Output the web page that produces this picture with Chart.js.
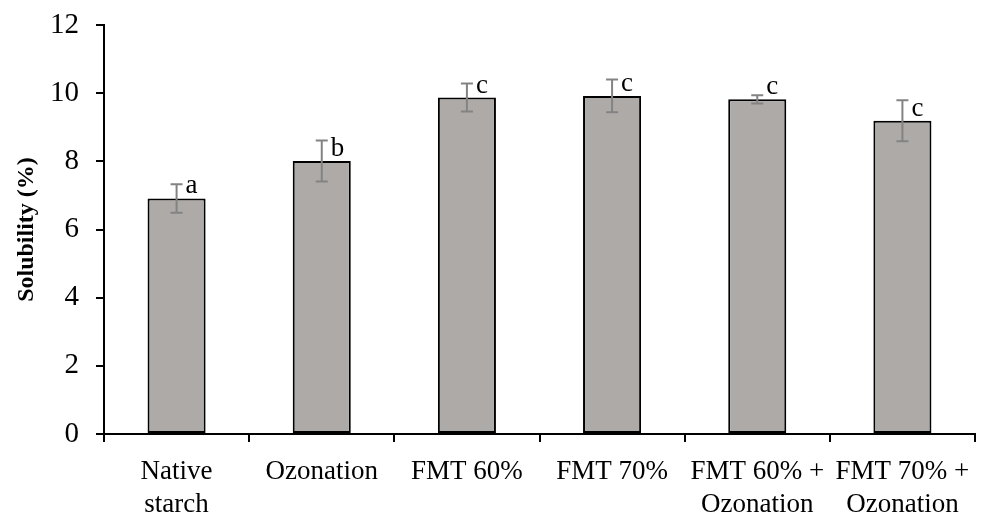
<!DOCTYPE html>
<html>
<head>
<meta charset="utf-8">
<script src="https://cdn.jsdelivr.net/npm/chart.js@4"></script>
<style>
html,body{margin:0;padding:0;background:#fff;}
#wrap{width:982px;height:515px;}
</style>
</head>
<body>
<div id="wrap"><canvas id="c" width="982" height="515"></canvas></div>
<script>
const categories = [["Native","starch"],"Ozonation","FMT 60%","FMT 70%",["FMT 60% +","Ozonation"],["FMT 70% +","Ozonation"]];
const solubility = [6.91, 8.01, 9.87, 9.92, 9.82, 9.19];
const errors = [0.42, 0.60, 0.41, 0.48, 0.12, 0.60];
const letters = ["a","b","c","c","c","c"];
const yTicks = [0,2,4,6,8,10,12];

const FONT = "'Liberation Serif', 'DejaVu Serif', serif";

const errorPlugin = {
  id: 'errbars',
  afterDatasetsDraw(chart) {
    const ctx = chart.ctx;
    const meta = chart.getDatasetMeta(0);
    const ys = chart.scales.y;
    ctx.save();
    meta.data.forEach((bar, i) => {
      const x = bar.x;
      const top = ys.getPixelForValue(solubility[i] + errors[i]);
      const bot = ys.getPixelForValue(solubility[i] - errors[i]);
      ctx.strokeStyle = '#838383';
      ctx.lineWidth = 2;
      ctx.beginPath();
      ctx.moveTo(x, top); ctx.lineTo(x, bot);
      ctx.moveTo(x - 6, top); ctx.lineTo(x + 6, top);
      ctx.moveTo(x - 6, bot); ctx.lineTo(x + 6, bot);
      ctx.stroke();
      ctx.fillStyle = '#000';
      ctx.font = '27px ' + FONT;
      ctx.textAlign = 'left';
      ctx.textBaseline = 'alphabetic';
      ctx.fillText(letters[i], x + 9, bar.y - 5);
    });
    ctx.restore();
  }
};

new Chart(document.getElementById('c'), {
  type: 'bar',
  data: {
    labels: categories,
    datasets: [{
      data: solubility,
      backgroundColor: '#AEAAA8',
      borderColor: '#000',
      borderWidth: 2,
      borderSkipped: false,
      barPercentage: 0.4,
      categoryPercentage: 1.0
    }]
  },
  options: {
    responsive: false,
    animation: false,
    devicePixelRatio: 1,
    layout: { padding: { top: 25, right: 7, bottom: 0, left: 0 } },
    plugins: { legend: { display: false }, tooltip: { enabled: false } },
    scales: {
      x: {
        offset: true,
        grid: { offset: true, drawOnChartArea: false, drawTicks: true, tickLength: 8, color: '#000', lineWidth: 2 },
        border: { display: true, color: '#000', width: 2 },
        ticks: { color: '#000', font: { family: FONT, size: 27, lineHeight: 1.24 }, padding: 13, maxRotation: 0, autoSkip: false },
        afterFit(s) { s.height = 81; s.paddingLeft = 0; s.paddingRight = 0; }
      },
      y: {
        min: 0, max: 12,
        afterBuildTicks(s) { s.ticks = yTicks.map(v => ({ value: v })); },
        grid: { drawOnChartArea: false, drawTicks: true, tickLength: 8, color: '#000', lineWidth: 2 },
        border: { display: true, color: '#000', width: 2 },
        ticks: { color: '#000', font: { family: FONT, size: 29 }, padding: 17 },
        title: { display: true, text: 'Solubility (%)', color: '#000', font: { family: FONT, size: 24, weight: 'bold' }, padding: { top: 12, bottom: 0 } },
        afterFit(s) { s.width = 104; s.paddingTop = 0; s.paddingBottom = 0; }
      }
    }
  },
  plugins: [errorPlugin]
});
</script>
</body>
</html>
